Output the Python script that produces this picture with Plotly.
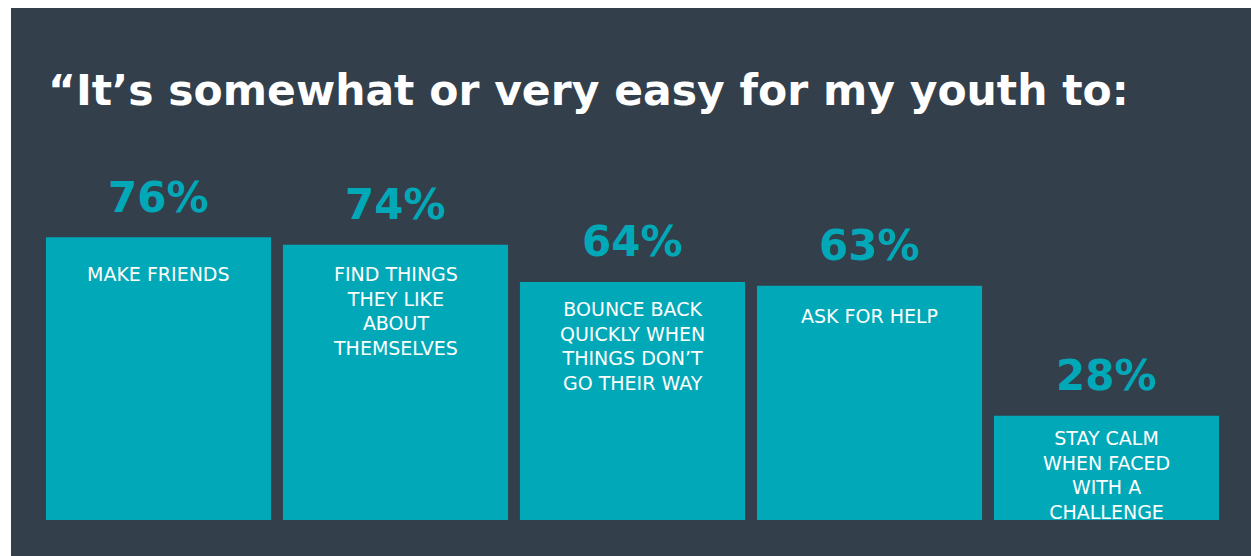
import plotly.graph_objects as go

# Survey results: share of parents saying each task is somewhat/very easy
categories = [
    "MAKE FRIENDS",
    "FIND THINGS THEY LIKE ABOUT THEMSELVES",
    "BOUNCE BACK QUICKLY WHEN THINGS DON’T GO THEIR WAY",
    "ASK FOR HELP",
    "STAY CALM WHEN FACED WITH A CHALLENGE",
]
bar_labels = [
    "MAKE FRIENDS",
    "FIND THINGS<br>THEY LIKE<br>ABOUT<br>THEMSELVES",
    "BOUNCE BACK<br>QUICKLY WHEN<br>THINGS DON’T<br>GO THEIR WAY",
    "ASK FOR HELP",
    "STAY CALM<br>WHEN FACED<br>WITH A<br>CHALLENGE",
]
values = [76, 74, 64, 63, 28]
title_text = "“It’s somewhat or very easy for my youth to:"

DARK = "#333F4A"
TEAL = "#01A9B8"

W, H = 1251, 556
M_L, M_R, M_T, M_B = 40, W - 1225, 148, H - 520

fig = go.Figure()
fig.add_trace(go.Bar(
    x=list(range(len(categories))),
    y=values,
    marker=dict(color=TEAL, line=dict(width=0)),
    hovertext=categories,
    hoverinfo="text+y",
    showlegend=False,
))

# percentage above each bar
for i, v in enumerate(values):
    fig.add_annotation(
        x=i, y=v, xref="x", yref="y",
        text=f"{v}%", showarrow=False,
        xanchor="center", yanchor="middle", yshift=40,
        font=dict(family="DejaVu Sans", size=42, color=TEAL, weight="bold"),
    )

# label inside the top of each bar
label_shift = [-24, -16, -14, -17, -9]
for i, (v, lab) in enumerate(zip(values, bar_labels)):
    fig.add_annotation(
        x=i, y=v, xref="x", yref="y",
        text=lab, showarrow=False,
        xanchor="center", yanchor="top", yshift=label_shift[i],
        align="center",
        font=dict(family="DejaVu Sans", size=19, color="white"),
    )

pw = W - M_L - M_R
ph = H - M_T - M_B

def px_x(p):
    return (p - M_L) / pw

def px_y(p):
    return (H - M_B - p) / ph

# dark panel behind the chart
fig.add_shape(
    type="rect", xref="paper", yref="paper", layer="below",
    x0=px_x(11), x1=px_x(W + 2), y0=px_y(H + 2), y1=px_y(8),
    fillcolor=DARK, line=dict(width=0),
)

fig.add_annotation(
    xref="paper", yref="paper", x=px_x(46), y=px_y(91),
    text=title_text, showarrow=False,
    xanchor="left", yanchor="middle",
    font=dict(family="DejaVu Sans", size=42.5, color="white", weight="bold"),
)

fig.update_layout(
    width=W, height=H,
    margin=dict(l=M_L, r=M_R, t=M_T, b=M_B, pad=0),
    paper_bgcolor="white",
    plot_bgcolor="rgba(0,0,0,0)",
    bargap=0.05,
    xaxis=dict(range=[-0.5, 4.5], visible=False, fixedrange=True),
    yaxis=dict(range=[0, 100], visible=False, fixedrange=True),
)

fig.write_html("out.html", config={"displayModeBar": False})
